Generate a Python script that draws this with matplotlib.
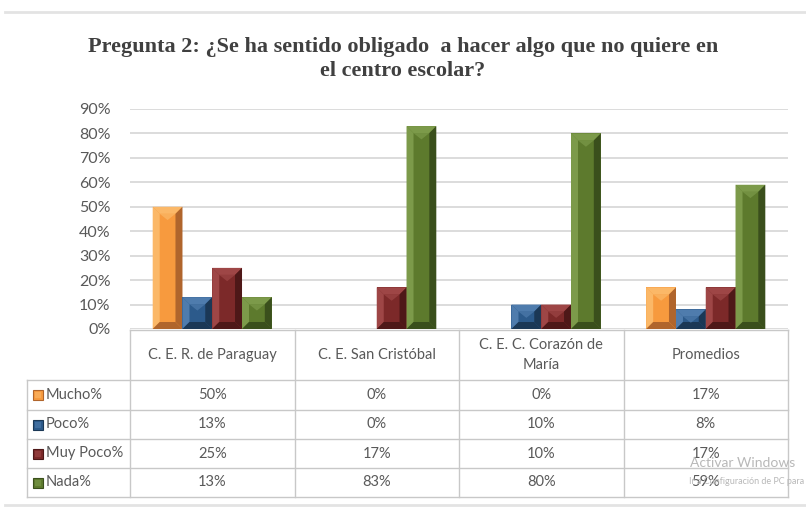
import numpy as np
import matplotlib.pyplot as plt
from matplotlib.patches import Polygon, Rectangle

plt.rcParams['font.family'] = ['Lato', 'DejaVu Sans']

# data
categories = ["C. E. R. de Paraguay", "C. E. San Cristóbal",
              "C. E. C. Corazón de\nMaría", "Promedios"]
series = ["Mucho%", "Poco%", "Muy Poco%", "Nada%"]
mucho = [50, 0, 0, 17]
poco = [13, 0, 10, 8]
muy_poco = [25, 17, 10, 17]
nada = [13, 83, 80, 59]
yticks = [0, 10, 20, 30, 40, 50, 60, 70, 80, 90]

values = [mucho, poco, muy_poco, nada]
# base, light, dark
colors = [("#F79A3E", "#FBB868", "#B0652C"),
          ("#2C5A8B", "#4F7CAD", "#1B3856"),
          ("#7C2929", "#9E4646", "#4E1818"),
          ("#5D7A2D", "#7C9A4A", "#3A4F1C")]
txt_gray = "#595959"
grid_gray = "#D9D9D9"
line_gray = "#C8C8C8"

W, H = 806, 508
fig = plt.figure(figsize=(W / 100, H / 100), dpi=100)

# plot area in pixels
px_left, px_right, px_top, px_bot = 130, 788, 109, 329
ax = fig.add_axes([px_left / W, 1 - px_bot / H,
                   (px_right - px_left) / W, (px_bot - px_top) / H])
ax.set_xlim(0, len(categories))
ax.set_ylim(0, 90)
for s in ax.spines.values():
    s.set_visible(False)
ax.set_xticks([])
ax.set_yticks(yticks)
ax.set_yticklabels([f"{t}%" for t in yticks], color=txt_gray, fontsize=11.5)
ax.tick_params(axis='y', length=0, pad=14)
ax.yaxis.grid(True, color=grid_gray, lw=1.3)
ax.set_axisbelow(True)

bw = 0.181
x = np.arange(len(categories)) + 0.5
fig.canvas.draw()
to_px = ax.transData
to_data = ax.transData.inverted()

def bevel(rect, base, light, dark):
    x0, y0 = rect.get_x(), rect.get_y()
    x1, y1 = x0 + rect.get_width(), y0 + rect.get_height()
    (a, b), (c, d) = to_px.transform([(x0, y0), (x1, y1)])
    bv = min(7, (c - a) / 3, (d - b) / 2)
    if bv <= 0.5:
        return
    ia, ib, ic, id_ = a + bv, b + bv, c - bv, d - bv
    mx = (a + c) / 2
    faces = [
        ([(a, d), (c, d), (ic, id_), (ia, id_)], light),
        ([(a, b), (a, d), (ia, id_), (ia, ib)], light),
        ([(c, b), (c, d), (ic, id_), (ic, ib)], dark),
        ([(a, b), (c, b), (ic, ib), (ia, ib)], dark),
    ]
    for pts, col in faces:
        ax.add_patch(Polygon(to_data.transform(pts), closed=True,
                             facecolor=col, edgecolor='none'))
    # small highlight under the top face
    hl = [(ia, id_), (ic, id_), (mx, id_ - bv * 0.9)]
    ax.add_patch(Polygon(to_data.transform(hl), closed=True,
                         facecolor=light, edgecolor='none', alpha=0.7))

for i, (vals, (base, light, dark)) in enumerate(zip(values, colors)):
    bars = ax.bar(x + (i - 1.5) * bw, vals, bw, color=base, edgecolor='none')
    for r in bars:
        bevel(r, base, light, dark)

# title
fig.text(0.5, 1 - 59 / H, "Pregunta 2: ¿Se ha sentido obligado  a hacer algo que no quiere en\nel centro escolar?",
         ha='center', va='center', fontsize=16, fontweight='bold',
         family='Liberation Serif', color="#404040", linespacing=1.25)

# data table drawn on an overlay in pixel units
tab = fig.add_axes([0, 0, 1, 1], facecolor='none')
tab.set_xlim(0, W)
tab.set_ylim(H, 0)
tab.axis('off')

col_w = (px_right - px_left) / len(categories)
col_edges = [px_left + k * col_w for k in range(len(categories) + 1)]
leg_left = 27
head_top, head_bot = 330, 380
row_edges = [380, 410, 439, 468, 497]

tab.plot([px_left, px_right], [head_top, head_top], color=line_gray, lw=1)
for yy in row_edges:
    tab.plot([leg_left, px_right], [yy, yy], color=line_gray, lw=1)
tab.plot([leg_left, leg_left], [row_edges[0], row_edges[-1]], color=line_gray, lw=1)
for xx in col_edges:
    tab.plot([xx, xx], [head_top, row_edges[-1]], color=line_gray, lw=1)

for k, cat in enumerate(categories):
    cx = (col_edges[k] + col_edges[k + 1]) / 2
    tab.text(cx, (head_top + head_bot) / 2, cat, ha='center', va='center',
             fontsize=10.5, color=txt_gray, linespacing=1.55)

for r, (name, vals, (base, light, dark)) in enumerate(zip(series, values, colors)):
    cy = (row_edges[r] + row_edges[r + 1]) / 2
    tab.add_patch(Rectangle((33, cy - 5), 10, 10, facecolor=base,
                            edgecolor=dark, lw=0.8))
    tab.add_patch(Rectangle((35, cy - 3), 6, 6, facecolor=light,
                            edgecolor='none', alpha=0.6))
    tab.text(46, cy, name, ha='left', va='center', fontsize=10.5, color=txt_gray)
    for k, v in enumerate(vals):
        cx = (col_edges[k] + col_edges[k + 1]) / 2
        tab.text(cx, cy, f"{v}%", ha='center', va='center',
                 fontsize=10.5, color=txt_gray)

# page border lines of the original screenshot
tab.plot([5, W], [12, 12], color="#E3E3E3", lw=2)
tab.plot([5, W], [505, 505], color="#E3E3E3", lw=2)

# watermark
tab.text(690, 463, "Activar Windows", fontsize=10, color="#B8B8B8", ha='left', va='center')
tab.text(689, 481, "Ir a Configuración de PC para activar Windows.", fontsize=6.5,
         color="#B8B8B8", ha='left', va='center')

plt.savefig("out.png", dpi=100)
